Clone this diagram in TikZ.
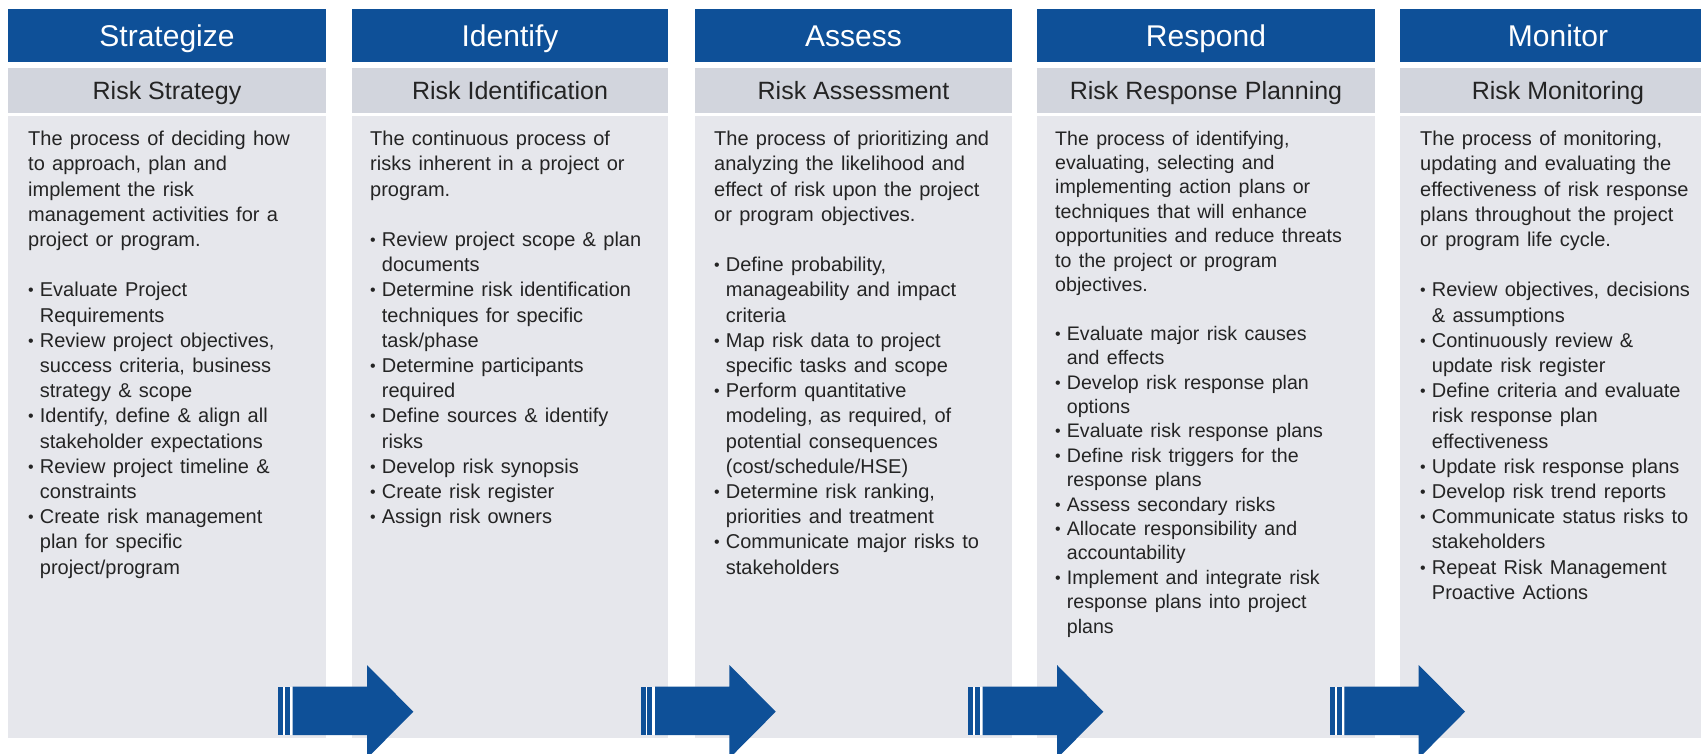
\documentclass[tikz,border=0pt]{standalone}
\usepackage{fontspec}
\setmainfont{Liberation Sans}

\definecolor{stageblue}{RGB}{14,80,152}
\definecolor{subgray}{RGB}{210,213,221}
\definecolor{bodygray}{RGB}{230,231,236}
\definecolor{inktext}{RGB}{36,36,36}

% bullet item and continuation line inside the column texts
\newcommand\bitem[1]{\makebox[11.7pt][l]{\raisebox{1pt}{\fontsize{16}{16}\selectfont •}}#1\par}
\newcommand\cont[1]{\hspace*{11.7pt}#1\par}
\newcommand\gap{\vspace{\baselineskip}}
\newcommand\bodyfont[2]{\fontsize{#1}{#2}\selectfont\spaceskip=7.3pt plus 1pt\raggedright}

% one stage column: #1 id, #2 left x, #3 right x, #4 title, #5 subtitle
\newcommand\stage[5]{%
  \fill[stageblue] (#2,9) rectangle (#3,62);
  \fill[subgray] (#2,68) rectangle (#3,113);
  \fill[bodygray] (#2,116) rectangle (#3,738);
  \node[titletext] (#1-title) at ({(#2+#3)/2},46.7) {#4};
  \node[subtext] (#1-sub) at ({(#2+#3)/2},100) {#5};
}

% block arrow with two lead-in bars, starting at x = #1
\newcommand\flowarrow[1]{%
  \fill[white] (#1,686.7) rectangle ({#1+14.4},735);
  \fill[stageblue] (#1,686.7) rectangle ({#1+5},735);
  \fill[stageblue] ({#1+6.7},686.7) rectangle ({#1+11.7},735);
  \fill[stageblue] ({#1+14.4},686.7) -- ({#1+88.7},686.7) -- ({#1+88.7},665)
    -- ({#1+135},711.7) -- ({#1+88.7},758.4) -- ({#1+88.7},735)
    -- ({#1+14.4},735) -- cycle;
}

\begin{document}
\begin{tikzpicture}[x=1pt,y=-1pt,
  titletext/.style={text=white, inner sep=0, anchor=base, font=\fontsize{30}{36}\selectfont},
  subtext/.style={text=inktext, inner sep=0, anchor=base, font=\fontsize{25}{30}\selectfont},
  bodytext/.style={text=inktext, inner sep=0, anchor=base west}]
\fill[white] (0,0) rectangle (1701,754);
\clip (0,0) rectangle (1701,754);

\stage{s1}{8}{326}{Strategize}{Risk Strategy}
\stage{s2}{352}{668}{Identify}{Risk Identification}
\stage{s3}{695}{1012}{Assess}{Risk Assessment}
\stage{s4}{1037}{1375}{Respond}{Risk Response Planning}
\stage{s5}{1400}{1716}{Monitor}{Risk Monitoring}

\node[bodytext] (s1-body) at (28,145.7) {\parbox[t]{300pt}{\bodyfont{20}{25.2}
The process of deciding how\\
to approach, plan and\\
implement the risk\\
management activities for a\\
project or program.\par\gap
\bitem{Evaluate Project}
\cont{Requirements}
\bitem{Review project objectives,}
\cont{success criteria, business}
\cont{strategy \& scope}
\bitem{Identify, define \& align all}
\cont{stakeholder expectations}
\bitem{Review project timeline \&}
\cont{constraints}
\bitem{Create risk management}
\cont{plan for specific}
\cont{project/program}}};

\node[bodytext] (s2-body) at (370,145.7) {\parbox[t]{300pt}{\bodyfont{20}{25.2}
The continuous process of\\
risks inherent in a project or\\
program.\par\gap
\bitem{Review project scope \& plan}
\cont{documents}
\bitem{Determine risk identification}
\cont{techniques for specific}
\cont{task/phase}
\bitem{Determine participants}
\cont{required}
\bitem{Define sources \& identify}
\cont{risks}
\bitem{Develop risk synopsis}
\bitem{Create risk register}
\bitem{Assign risk owners}}};

\node[bodytext] (s3-body) at (714,145.7) {\parbox[t]{300pt}{\bodyfont{20}{25.2}
The process of prioritizing and\\
analyzing the likelihood and\\
effect of risk upon the project\\
or program objectives.\par\gap
\bitem{Define probability,}
\cont{manageability and impact}
\cont{criteria}
\bitem{Map risk data to project}
\cont{specific tasks and scope}
\bitem{Perform quantitative}
\cont{modeling, as required, of}
\cont{potential consequences}
\cont{(cost/schedule/HSE)}
\bitem{Determine risk ranking,}
\cont{priorities and treatment}
\bitem{Communicate major risks to}
\cont{stakeholders}}};

\node[bodytext] (s4-body) at (1055,145.2) {\parbox[t]{320pt}{\bodyfont{19.6}{24.4}
The process of identifying,\\
evaluating, selecting and\\
implementing action plans or\\
techniques that will enhance\\
opportunities and reduce threats\\
to the project or program\\
objectives.\par\gap
\bitem{Evaluate major risk causes}
\cont{and effects}
\bitem{Develop risk response plan}
\cont{options}
\bitem{Evaluate risk response plans}
\bitem{Define risk triggers for the}
\cont{response plans}
\bitem{Assess secondary risks}
\bitem{Allocate responsibility and}
\cont{accountability}
\bitem{Implement and integrate risk}
\cont{response plans into project}
\cont{plans}}};

\node[bodytext] (s5-body) at (1420,145.7) {\parbox[t]{300pt}{\bodyfont{20}{25.2}
The process of monitoring,\\
updating and evaluating the\\
effectiveness of risk response\\
plans throughout the project\\
or program life cycle.\par\gap
\bitem{Review objectives, decisions}
\cont{\& assumptions}
\bitem{Continuously review \&}
\cont{update risk register}
\bitem{Define criteria and evaluate}
\cont{risk response plan}
\cont{effectiveness}
\bitem{Update risk response plans}
\bitem{Develop risk trend reports}
\bitem{Communicate status risks to}
\cont{stakeholders}
\bitem{Repeat Risk Management}
\cont{Proactive Actions}}};

\flowarrow{278.3}
\flowarrow{640.7}
\flowarrow{968.3}
\flowarrow{1330}
\end{tikzpicture}
\end{document}
